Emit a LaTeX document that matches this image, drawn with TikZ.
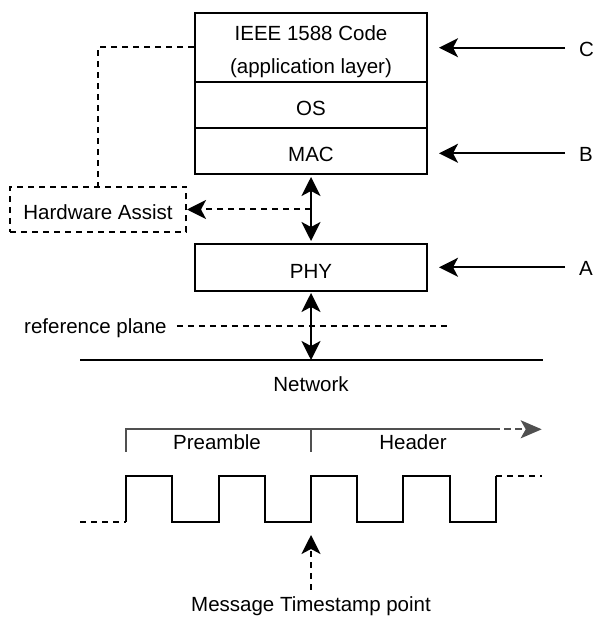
\documentclass[tikz,border=0pt]{standalone}
\usepackage{fontspec}
\setmainfont{Liberation Sans}
\usetikzlibrary{arrows.meta}
\definecolor{tickgray}{HTML}{505050}

\begin{document}
\begin{tikzpicture}[x=1pt,y=-1pt,
  every node/.style={font=\fontsize{20.5}{24}\selectfont},
  layer/.style={draw, line width=2pt, minimum width=232pt, inner sep=0pt,
    text height=22pt, text depth=0pt},
  lbl/.style={inner sep=0pt, anchor=base},
  wire/.style={line width=2pt},
  dsh/.style={line width=2pt, dash pattern=on 6pt off 5pt},
  ptr/.style={-{Stealth[length=19pt,width=19pt,inset=5pt]}},
  dbl/.style={{Stealth[length=19pt,width=19pt,inset=5pt]}-{Stealth[length=19pt,width=19pt,inset=5pt]}},
  gline/.style={draw=tickgray, line width=1.8pt},
  gptr/.style={-{Stealth[length=21pt,width=18pt,inset=5pt,fill=tickgray]}},
]
\useasboundingbox (0,0) rectangle (595,617);

% protocol stack
\node[layer, minimum height=69.3pt] (ieee) at (311,47.35) {};
\node[lbl] (ieeeA) at (311,41) {IEEE 1588 Code};
\node[lbl] (ieeeB) at (311,74) {(application layer)};
\node[layer, minimum height=46pt] (os)  at (311,105) {OS};
\node[layer, minimum height=46pt] (mac) at (311,151) {MAC};
\node[layer, minimum height=47pt] (phy) at (311,267.5) {PHY};

% hardware assist block
\node[draw, dsh, inner sep=0pt, minimum width=176pt, minimum height=45.6pt,
  text height=21pt, text depth=0pt] (hw) at (98,209.5) {Hardware Assist};

% timestamp locations
\node[lbl, anchor=base west] (lc) at (579,56.7) {C};
\node[lbl, anchor=base west] (lb) at (579,161.7) {B};
\node[lbl, anchor=base west] (la) at (579,275) {A};
\coordinate (cC) at (565,47.7);
\coordinate (cB) at (565,153.3);
\coordinate (cA) at (565,267.3);
\draw[wire, ptr, shorten >=11pt] (cC) -- (cC -| ieee.east);
\draw[wire, ptr, shorten >=11pt] (cB) -- (cB -| mac.east);
\draw[wire, ptr, shorten >=11pt] (cA) -- (cA -| phy.east);

% links between layers
\draw[wire, dbl, shorten <=2pt, shorten >=2pt] (mac.south) -- (phy.north);
\coordinate (jx) at (311,209.5);
\draw[dsh, ptr] (jx) -- (hw.east);
\draw[dsh] (ieee.west) -| (hw.north);

% reference plane and network
\node[lbl, anchor=base west] (ref) at (24,333) {reference plane};
\coordinate (refE) at (447,325.7);
\draw[dsh, shorten <=10pt] (ref.east |- refE) -- (refE);
\coordinate (netL) at (80,360);
\coordinate (netR) at (543,360);
\coordinate (tap) at (311,360);
\draw[wire] (netL) -- (netR);
\draw[wire, dbl, shorten <=1pt] (phy.south) -- (tap);
\node[lbl] (net) at (311,391) {Network};

% frame fields
\node[lbl] (pre) at (217,449.3) {Preamble};
\node[lbl] (hdr) at (413,449.3) {Header};
\draw[gline] (126,451.7) |- (500,429.3);
\draw[gline] (311,429.3) -- (311,451.7);
\draw[gline, gptr, dash pattern=on 7pt off 4pt] (504,429.3) -- (541.7,429.3);

% signal waveform
\draw[dsh] (80,521.7) -- (126,521.7);
\draw[wire] (126,521.7) -- (126,476) -- (172,476) -- (172,521.7) -- (219,521.7)
  -- (219,476) -- (265,476) -- (265,521.7) -- (311,521.7) -- (311,476)
  -- (357,476) -- (357,521.7) -- (403,521.7) -- (403,476) -- (450,476)
  -- (450,521.7) -- (496,521.7) -- (496,476);
\draw[dsh] (496,476) -- (542,476);

% timestamp point
\node[lbl] (ts) at (311,611.7) {Message Timestamp point};
\coordinate (tsTip) at (311,535);
\draw[dsh, ptr, shorten <=7pt] (ts.north) -- (tsTip);
\end{tikzpicture}
\end{document}
